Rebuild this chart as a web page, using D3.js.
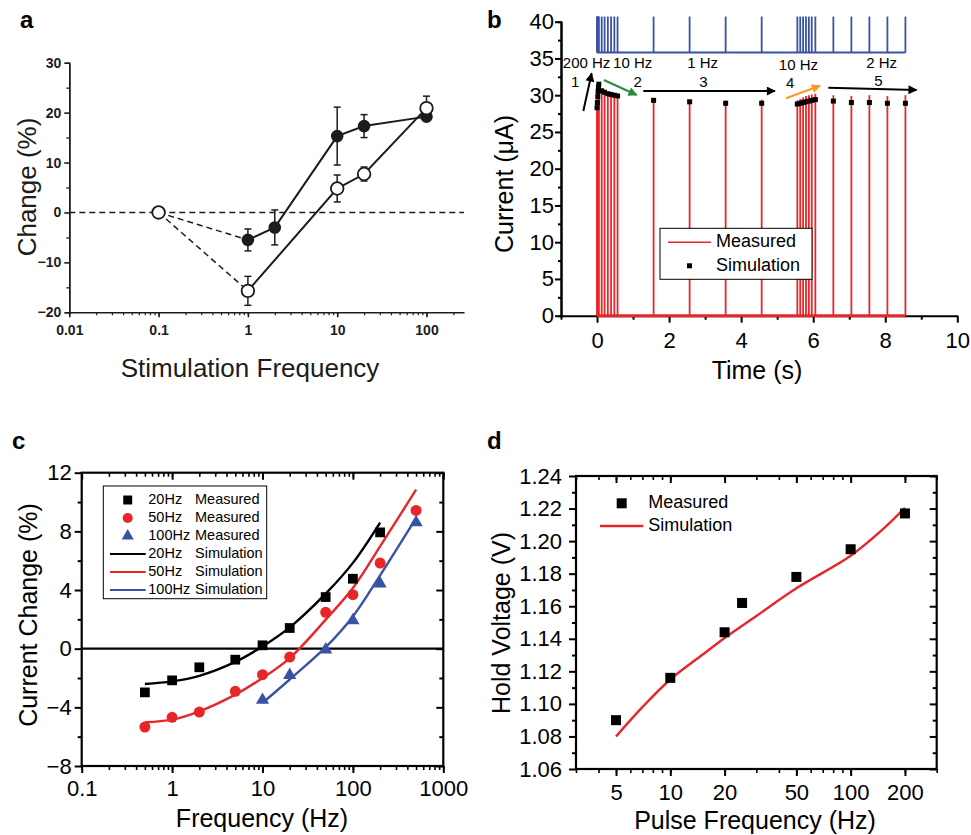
<!DOCTYPE html>
<html>
<head>
<meta charset="utf-8">
<script src="https://cdn.jsdelivr.net/npm/d3@7"></script>
<style>
  body { margin: 0; background: #fff; }
  svg { display: block; font-family: Arial, "Liberation Sans", sans-serif; }
</style>
</head>
<body>
<script>
const FONT = 'Arial, "Liberation Sans", sans-serif';

// ---------- panel a ----------
const aFreqFilled = [1, 2, 10, 20, 100];
const aFilled = [-5.5, -3.0, 15.3, 17.3, 19.2];
const aFilledErr = [2.2, 3.5, 5.8, 2.3, 0.8];
const aFreqOpen = [0.1, 1, 10, 20, 100];
const aOpen = [0, -15.7, 4.8, 7.7, 20.9];
const aOpenErr = [0, 2.9, 2.7, 1.4, 2.4];
const aXTicks = [0.01, 0.1, 1, 10, 100];
const aXTickLabels = ["0.01", "0.1", "1", "10", "100"];
const aYTicks = [-20, -10, 0, 10, 20, 30];
const aYMinor = [-15, -5, 5, 15, 25];

// ---------- panel b ----------
const bPulseTimes = [0, 0.01, 0.02, 0.03, 0.04, 0.05, 0.13, 0.21, 0.30, 0.39, 0.48, 0.57,
  1.57, 2.57, 3.57, 4.57, 5.56, 5.64, 5.72, 5.80, 5.88, 5.96, 6.06, 6.56, 7.06, 7.56, 8.06, 8.56];
const bMeasuredPeak = [28.5, 29.5, 30.5, 31.0, 31.5, 31.8, 30.5, 30.3, 30.1, 30.0, 29.9, 29.8,
  29.5, 29.4, 29.3, 29.4, 29.3, 29.5, 29.7, 29.9, 30.0, 30.1, 30.2, 30.0, 29.9, 30.0, 29.9, 30.0];
const bSimPeak = [28.3, 29.0, 29.8, 30.5, 31.1, 31.5, 30.6, 30.4, 30.2, 30.1, 30.0, 29.9,
  29.3, 29.1, 28.9, 28.9, 28.8, 28.9, 29.0, 29.1, 29.2, 29.3, 29.4, 29.2, 29.0, 29.0, 28.9, 28.9];
const bStimLow = 35.8, bStimHigh = 40.7;
const bXTicks = [0, 2, 4, 6, 8, 10];
const bXMinor = [-1, 1, 3, 5, 7, 9];
const bYTicks = [0, 5, 10, 15, 20, 25, 30, 35, 40];
const bYMinor = [2.5, 7.5, 12.5, 17.5, 22.5, 27.5, 32.5, 37.5];
const bRateLabels = ["200 Hz", "10 Hz", "1 Hz", "10 Hz", "2 Hz"];
const bRateT = [-0.29, 0.99, 2.93, 5.59, 7.90];
const bRateI = [34.2, 34.2, 34.2, 34.0, 34.2];
const bPhaseLabels = ["1", "2", "3", "4", "5"];
const bPhaseT = [-0.61, 1.13, 2.95, 5.36, 7.81];
const bPhaseI = [31.6, 31.66, 31.66, 31.5, 31.8];
const bArrowFrom = [[-0.38, 27.85], [0.19, 32.07], [1.285, 30.57], [5.245, 29.58], [6.42, 31.02]];
const bArrowTo = [[-0.15, 32.98], [1.10, 30.03], [4.94, 30.57], [6.19, 31.29], [8.87, 30.71]];
const bArrowColor = ["#000", "#2b8a3e", "#000", "#f39a2b", "#000"];

// ---------- panel c ----------
const cFreq20 = [0.5, 1, 2, 5, 10, 20, 50, 100, 200];
const cMeas20 = [-2.98, -2.16, -1.27, -0.75, 0.23, 1.41, 3.52, 4.77, 7.93];
const cSim20 = [-2.41, -2.23, -1.85, -0.9, 0.15, 1.45, 3.75, 5.85, 8.6];
const cFreq50 = [0.5, 1, 2, 5, 10, 20, 50, 100, 200, 500];
const cMeas50 = [-5.34, -4.68, -4.32, -2.91, -1.77, -0.57, 2.48, 3.68, 5.84, 9.43];
const cSim50 = [-5.02, -4.84, -4.27, -3.13, -2.0, -0.64, 1.98, 4.14, 6.98, 10.84];
const cFreq100 = [10, 20, 50, 100, 200, 500];
const cMeas100 = [-3.5, -1.8, -0.07, 1.93, 4.43, 8.61];
const cSim100 = [-3.7, -2.1, 0.1, 2.2, 5.0, 8.9];
const cXTicks = [0.1, 1, 10, 100, 1000];
const cYTicks = [-8, -4, 0, 4, 8, 12];
const cYMinor = [-6, -2, 2, 6, 10];

// ---------- panel d ----------
const dFreq = [5, 10, 20, 25, 50, 100, 200];
const dMeas = [1.090, 1.116, 1.144, 1.162, 1.178, 1.195, 1.217];
const dSimFreq = [5, 7, 10, 15, 20, 30, 50, 100, 150, 200];
const dSim = [1.080, 1.098, 1.115, 1.130, 1.1405, 1.154, 1.171, 1.191, 1.207, 1.2205];
const dXTicks = [5, 10, 20, 50, 100, 200];
const dYTicks = [1.06, 1.08, 1.10, 1.12, 1.14, 1.16, 1.18, 1.20, 1.22, 1.24];
const dYMinor = [1.07, 1.09, 1.11, 1.13, 1.15, 1.17, 1.19, 1.21, 1.23];

const RED = "#e8262a", BLUE = "#3953a4";

const svg = d3.select("body").append("svg").attr("width", 971).attr("height", 835);

function styleAxis(sel, size, weight, sw, color) {
  sel.attr("font-family", FONT).attr("font-size", size).attr("font-weight", weight || "normal");
  sel.selectAll("line").attr("stroke-width", sw).attr("stroke", color || "#000");
  sel.selectAll("path").attr("stroke-width", sw).attr("stroke", color || "#000");
  sel.selectAll("text").attr("fill", color || "#000");
}

function panelLabel(x, y, t) {
  svg.append("text").attr("x", x).attr("y", y).attr("font-size", 24).attr("font-weight", "bold")
    .attr("font-family", FONT).text(t);
}

// ================= a =================
{
  const INK = "#1c1c1c";
  const x = d3.scaleLog().domain([0.01, 263]).range([69.3, 464]);
  const y = d3.scaleLinear().domain([-20, 30]).range([312.3, 62.7]);
  const g = svg.append("g");

  g.append("g").attr("transform", "translate(69.3,0)")
    .call(d3.axisLeft(y).tickValues(aYMinor).tickSize(3).tickFormat(""))
    .call(s => styleAxis(s, 14, "bold", 1.3, INK));
  g.append("g").attr("transform", "translate(69.3,0)")
    .call(d3.axisLeft(y).tickValues(aYTicks).tickSize(5).tickSizeOuter(0).tickPadding(3))
    .call(s => styleAxis(s, 14, "bold", 1.6, INK));
  g.append("g").attr("transform", "translate(0,312.3)")
    .call(d3.axisBottom(x).tickValues(x.ticks()).tickSize(3).tickFormat(""))
    .call(s => { s.select(".domain").remove(); styleAxis(s, 14, "bold", 1.2, INK); });
  g.append("g").attr("transform", "translate(0,312.3)")
    .call(d3.axisBottom(x).tickValues(aXTicks).tickSize(5).tickSizeOuter(0).tickPadding(8)
      .tickFormat((d, i) => aXTickLabels[i]))
    .call(s => styleAxis(s, 14, "bold", 1.6, INK));

  g.append("line").attr("x1", 69.3).attr("x2", 464).attr("y1", y(0)).attr("y2", y(0))
    .attr("stroke", INK).attr("stroke-width", 1.5).attr("stroke-dasharray", "6,4");

  // dashed links from reference point
  [[aFreqFilled[0], aFilled[0]], [aFreqOpen[1], aOpen[1]]].forEach(p => {
    g.append("line").attr("x1", x(aFreqOpen[0])).attr("y1", y(aOpen[0]))
      .attr("x2", x(p[0])).attr("y2", y(p[1]))
      .attr("stroke", INK).attr("stroke-width", 1.5).attr("stroke-dasharray", "6,4");
  });

  const line = d3.line().x(d => x(d[0])).y(d => y(d[1]));
  g.append("path").attr("d", line(d3.zip(aFreqFilled, aFilled)))
    .attr("fill", "none").attr("stroke", INK).attr("stroke-width", 2);
  g.append("path").attr("d", line(d3.zip(aFreqOpen, aOpen).slice(1)))
    .attr("fill", "none").attr("stroke", INK).attr("stroke-width", 2);

  function errBars(fs, vs, es) {
    fs.forEach((f, i) => {
      if (!es[i]) return;
      const cx = x(f);
      g.append("line").attr("x1", cx).attr("x2", cx).attr("y1", y(vs[i] - es[i])).attr("y2", y(vs[i] + es[i]))
        .attr("stroke", INK).attr("stroke-width", 1.5);
      [vs[i] - es[i], vs[i] + es[i]].forEach(v => {
        g.append("line").attr("x1", cx - 3.5).attr("x2", cx + 3.5).attr("y1", y(v)).attr("y2", y(v))
          .attr("stroke", INK).attr("stroke-width", 1.5);
      });
    });
  }
  errBars(aFreqFilled, aFilled, aFilledErr);
  errBars(aFreqOpen, aOpen, aOpenErr);

  g.selectAll(".fill").data(d3.zip(aFreqFilled, aFilled)).join("circle")
    .attr("cx", d => x(d[0])).attr("cy", d => y(d[1])).attr("r", 6.3).attr("fill", INK);
  g.selectAll(".open").data(d3.zip(aFreqOpen, aOpen)).join("circle")
    .attr("cx", d => x(d[0])).attr("cy", d => y(d[1])).attr("r", 6.3)
    .attr("fill", "#fff").attr("stroke", INK).attr("stroke-width", 1.8);

  g.append("text").attr("x", 250).attr("y", 377).attr("text-anchor", "middle")
    .attr("font-size", 26).attr("font-family", FONT).attr("fill", INK).text("Stimulation Frequency");
  g.append("text").attr("transform", "translate(36,187) rotate(-90)").attr("text-anchor", "middle")
    .attr("font-size", 26).attr("font-family", FONT).attr("fill", INK).text("Change (%)");
  panelLabel(20, 28, "a");
}

// ================= b =================
{
  const x = d3.scaleLinear().domain([-1, 10]).range([561, 957.3]);
  const y = d3.scaleLinear().domain([0, 40]).range([315.7, 21.7]);
  const g = svg.append("g");

  g.append("g").attr("transform", "translate(561,0)")
    .call(d3.axisLeft(y).tickValues(bYMinor).tickSize(3).tickFormat(""))
    .call(s => styleAxis(s, 22, "normal", 2));
  g.append("g").attr("transform", "translate(561,0)")
    .call(d3.axisLeft(y).tickValues(bYTicks).tickSize(6).tickSizeOuter(0).tickPadding(1))
    .call(s => styleAxis(s, 22, "normal", 2));
  g.append("g").attr("transform", "translate(0,315.7)")
    .call(d3.axisBottom(x).tickValues(bXMinor).tickSize(4).tickFormat(""))
    .call(s => { s.select(".domain").remove(); styleAxis(s, 22, "normal", 2); });
  g.append("g").attr("transform", "translate(0,315.7)")
    .call(d3.axisBottom(x).tickValues(bXTicks).tickSize(7).tickSizeOuter(0).tickPadding(10))
    .call(s => styleAxis(s, 22, "normal", 2));

  const pulses = bPulseTimes.map((t, i) => ({ t, m: bMeasuredPeak[i], s: bSimPeak[i] }));

  // stimulus train (top)
  g.append("line").attr("x1", x(bPulseTimes[0])).attr("x2", x(bPulseTimes[bPulseTimes.length - 1]))
    .attr("y1", y(bStimLow)).attr("y2", y(bStimLow)).attr("stroke", BLUE).attr("stroke-width", 2);
  g.selectAll(".stim").data(pulses).join("line")
    .attr("x1", d => x(d.t)).attr("x2", d => x(d.t))
    .attr("y1", y(bStimLow)).attr("y2", y(bStimHigh)).attr("stroke", BLUE).attr("stroke-width", 1.8);

  // measured current
  g.append("line").attr("x1", x(bPulseTimes[0])).attr("x2", x(bPulseTimes[bPulseTimes.length - 1]))
    .attr("y1", y(0)).attr("y2", y(0)).attr("stroke", RED).attr("stroke-width", 3);
  g.selectAll(".meas").data(pulses).join("line")
    .attr("x1", d => x(d.t)).attr("x2", d => x(d.t))
    .attr("y1", y(0)).attr("y2", d => y(d.m)).attr("stroke", RED).attr("stroke-width", 1.8);

  // simulation points
  g.selectAll(".sim").data(pulses).join("rect")
    .attr("x", d => x(d.t) - 2.5).attr("y", d => y(d.s) - 2.5)
    .attr("width", 5).attr("height", 5).attr("fill", "#000");

  // arrows
  const defs = svg.append("defs");
  const colors = Array.from(new Set(bArrowColor));
  colors.forEach((c, i) => {
    defs.append("marker").attr("id", "ah" + i).attr("viewBox", "0 0 10 10")
      .attr("refX", 9).attr("refY", 5).attr("markerWidth", 11).attr("markerHeight", 9)
      .attr("markerUnits", "userSpaceOnUse").attr("orient", "auto")
      .append("path").attr("d", "M0,0L10,5L0,10z").attr("fill", c);
  });
  bArrowFrom.forEach((p, i) => {
    g.append("line").attr("x1", x(p[0])).attr("y1", y(p[1]))
      .attr("x2", x(bArrowTo[i][0])).attr("y2", y(bArrowTo[i][1]))
      .attr("stroke", bArrowColor[i]).attr("stroke-width", 2)
      .attr("marker-end", `url(#ah${colors.indexOf(bArrowColor[i])})`);
  });

  bRateLabels.forEach((t, i) => {
    g.append("text").attr("x", x(bRateT[i])).attr("y", y(bRateI[i])).attr("text-anchor", "middle")
      .attr("dominant-baseline", "middle").attr("font-size", 15).attr("font-family", FONT).text(t);
  });
  bPhaseLabels.forEach((t, i) => {
    g.append("text").attr("x", x(bPhaseT[i])).attr("y", y(bPhaseI[i])).attr("text-anchor", "middle")
      .attr("dominant-baseline", "middle").attr("font-size", 15).attr("font-family", FONT).text(t);
  });

  // legend
  const lg = g.append("g").attr("transform", "translate(660,228.3)");
  lg.append("rect").attr("width", 152).attr("height", 51).attr("fill", "#fff")
    .attr("stroke", "#000").attr("stroke-width", 1);
  lg.append("line").attr("x1", 8).attr("x2", 51).attr("y1", 14).attr("y2", 14).attr("stroke", RED).attr("stroke-width", 1.5);
  lg.append("rect").attr("x", 27).attr("y", 35).attr("width", 5).attr("height", 5).attr("fill", "#000");
  lg.append("text").attr("x", 56).attr("y", 14).attr("dominant-baseline", "middle")
    .attr("font-size", 18).attr("font-family", FONT).text("Measured");
  lg.append("text").attr("x", 56).attr("y", 38).attr("dominant-baseline", "middle")
    .attr("font-size", 18).attr("font-family", FONT).text("Simulation");

  g.append("text").attr("x", 757).attr("y", 379).attr("text-anchor", "middle")
    .attr("font-size", 25).attr("font-family", FONT).text("Time (s)");
  g.append("text").attr("transform", "translate(513,184) rotate(-90)").attr("text-anchor", "middle")
    .attr("font-size", 25).attr("font-family", FONT).text("Current (\u03bcA)");
  panelLabel(487, 28, "b");
}

// box-style axes used by c and d
function boxAxes(g, x, y, o) {
  const [x0, x1] = x.range();
  const [y0, y1] = y.range();
  const noDomain = s => s.select(".domain").remove();
  g.append("g").attr("transform", `translate(${x0},0)`)
    .call(d3.axisLeft(y).tickValues(o.yMinor).tickSize(4).tickFormat(""))
    .call(noDomain).call(s => styleAxis(s, 22, "normal", 2));
  g.append("g").attr("transform", `translate(${x0},0)`)
    .call(d3.axisLeft(y).tickValues(o.yMajor).tickSize(7).tickPadding(o.yPad).tickFormat(o.yFmt))
    .call(noDomain).call(s => styleAxis(s, 22, "normal", 2));
  g.append("g").attr("transform", `translate(${x1},0)`)
    .call(d3.axisRight(y).tickValues(o.yMinor).tickSize(-4).tickFormat(""))
    .call(noDomain).call(s => styleAxis(s, 22, "normal", 2));
  g.append("g").attr("transform", `translate(${x1},0)`)
    .call(d3.axisRight(y).tickValues(o.yMajor).tickSize(-7).tickFormat(""))
    .call(noDomain).call(s => styleAxis(s, 22, "normal", 2));
  g.append("g").attr("transform", `translate(0,${y1})`)
    .call(d3.axisTop(x).tickValues(x.ticks()).tickSize(-4).tickFormat(""))
    .call(noDomain).call(s => styleAxis(s, 22, "normal", 1.6));
  g.append("g").attr("transform", `translate(0,${y1})`)
    .call(d3.axisTop(x).tickValues(o.xMajor).tickSize(-7).tickFormat(""))
    .call(noDomain).call(s => styleAxis(s, 22, "normal", 2));
  g.append("g").attr("transform", `translate(0,${y0})`)
    .call(d3.axisBottom(x).tickValues(x.ticks()).tickSize(4).tickFormat(""))
    .call(noDomain).call(s => styleAxis(s, 22, "normal", 1.6));
  g.append("g").attr("transform", `translate(0,${y0})`)
    .call(d3.axisBottom(x).tickValues(o.xMajor).tickSize(7).tickPadding(o.xPad).tickFormat(o.xFmt))
    .call(noDomain).call(s => styleAxis(s, 22, "normal", 2));
  g.append("rect").attr("x", x0).attr("y", y1).attr("width", x1 - x0).attr("height", y0 - y1)
    .attr("fill", "none").attr("stroke", "#000").attr("stroke-width", 2.2);
}

// ================= c =================
{
  const x = d3.scaleLog().domain([0.1, 1000]).range([81.7, 443.3]);
  const y = d3.scaleLinear().domain([-8, 12]).range([766, 472.7]);
  const g = svg.append("g");
  boxAxes(g, x, y, { yMajor: cYTicks, yMinor: cYMinor, xMajor: cXTicks, yPad: 3, xPad: 7,
    yFmt: d3.format("d"), xFmt: d => String(d) });

  g.append("line").attr("x1", 81.7).attr("x2", 443.3).attr("y1", y(0)).attr("y2", y(0))
    .attr("stroke", "#000").attr("stroke-width", 2.2);

  const line = d3.line().curve(d3.curveCatmullRom.alpha(0.5)).x(d => x(d[0])).y(d => y(d[1]));
  const series = [
    { f: cFreq20, m: cMeas20, s: cSim20, c: "#000", sym: d3.symbolSquare, size: 95 },
    { f: cFreq50, m: cMeas50, s: cSim50, c: RED, sym: d3.symbolCircle, size: 95 },
    { f: cFreq100, m: cMeas100, s: cSim100, c: BLUE, sym: d3.symbolTriangle, size: 75 }
  ];
  series.forEach(sr => {
    g.append("path").attr("d", line(d3.zip(sr.f, sr.s))).attr("fill", "none")
      .attr("stroke", sr.c).attr("stroke-width", 2.4);
  });
  series.forEach(sr => {
    g.selectAll(null).data(d3.zip(sr.f, sr.m)).join("path")
      .attr("transform", d => `translate(${x(d[0])},${y(d[1])})`)
      .attr("d", d3.symbol(sr.sym, sr.size)).attr("fill", sr.c);
  });

  // legend
  const lg = g.append("g").attr("transform", "translate(103.3,486)");
  lg.append("rect").attr("width", 163.4).attr("height", 112.7).attr("fill", "#fff")
    .attr("stroke", "#000").attr("stroke-width", 1);
  const names = ["20Hz", "50Hz", "100Hz"];
  series.forEach((sr, i) => {
    const yy = 14 + i * 18;
    lg.append("path").attr("transform", `translate(24.4,${yy})`)
      .attr("d", d3.symbol(sr.sym, sr.size * 0.85)).attr("fill", sr.c);
    lg.append("text").attr("x", 45).attr("y", yy).attr("dominant-baseline", "middle")
      .attr("font-size", 14.5).attr("font-family", FONT).text(names[i]);
    lg.append("text").attr("x", 91.7).attr("y", yy).attr("dominant-baseline", "middle")
      .attr("font-size", 14.5).attr("font-family", FONT).text("Measured");
    const y2 = 14 + (i + 3) * 18;
    lg.append("line").attr("x1", 6.7).attr("x2", 42.4).attr("y1", y2).attr("y2", y2)
      .attr("stroke", sr.c).attr("stroke-width", 2.2);
    lg.append("text").attr("x", 45).attr("y", y2).attr("dominant-baseline", "middle")
      .attr("font-size", 14.5).attr("font-family", FONT).text(names[i]);
    lg.append("text").attr("x", 91.7).attr("y", y2).attr("dominant-baseline", "middle")
      .attr("font-size", 14.5).attr("font-family", FONT).text("Simulation");
  });

  g.append("text").attr("x", 262).attr("y", 827).attr("text-anchor", "middle")
    .attr("font-size", 25).attr("font-family", FONT).text("Frequency (Hz)");
  g.append("text").attr("transform", "translate(37,615) rotate(-90)").attr("text-anchor", "middle")
    .attr("font-size", 25).attr("font-family", FONT).text("Current Change (%)");
  panelLabel(12, 449, "c");
}

// ================= d =================
{
  const x = d3.scaleLog().domain([3, 300]).range([576, 936.7]);
  const y = d3.scaleLinear().domain([1.06, 1.24]).range([769, 476]);
  const g = svg.append("g");
  boxAxes(g, x, y, { yMajor: dYTicks, yMinor: dYMinor, xMajor: dXTicks, yPad: 7, xPad: 8,
    yFmt: d3.format(".2f"), xFmt: d => String(d) });

  const line = d3.line().curve(d3.curveCatmullRom.alpha(0.5)).x(d => x(d[0])).y(d => y(d[1]));
  g.append("path").attr("d", line(d3.zip(dSimFreq, dSim))).attr("fill", "none")
    .attr("stroke", RED).attr("stroke-width", 2.4);
  g.selectAll(null).data(d3.zip(dFreq, dMeas)).join("rect")
    .attr("x", d => x(d[0]) - 5).attr("y", d => y(d[1]) - 5)
    .attr("width", 10).attr("height", 10).attr("fill", "#000");

  g.append("rect").attr("x", 616.7).attr("y", 498.3).attr("width", 10).attr("height", 10).attr("fill", "#000");
  g.append("line").attr("x1", 600).attr("x2", 643.3).attr("y1", 526).attr("y2", 526)
    .attr("stroke", RED).attr("stroke-width", 2.4);
  g.append("text").attr("x", 648.3).attr("y", 503.3).attr("dominant-baseline", "middle")
    .attr("font-size", 18).attr("font-family", FONT).text("Measured");
  g.append("text").attr("x", 648.3).attr("y", 526).attr("dominant-baseline", "middle")
    .attr("font-size", 18).attr("font-family", FONT).text("Simulation");

  g.append("text").attr("x", 755).attr("y", 829).attr("text-anchor", "middle")
    .attr("font-size", 25).attr("font-family", FONT).text("Pulse Frequency (Hz)");
  g.append("text").attr("transform", "translate(510,623) rotate(-90)").attr("text-anchor", "middle")
    .attr("font-size", 25).attr("font-family", FONT).text("Hold Voltage (V)");
  panelLabel(487, 449, "d");
}
</script>
</body>
</html>
